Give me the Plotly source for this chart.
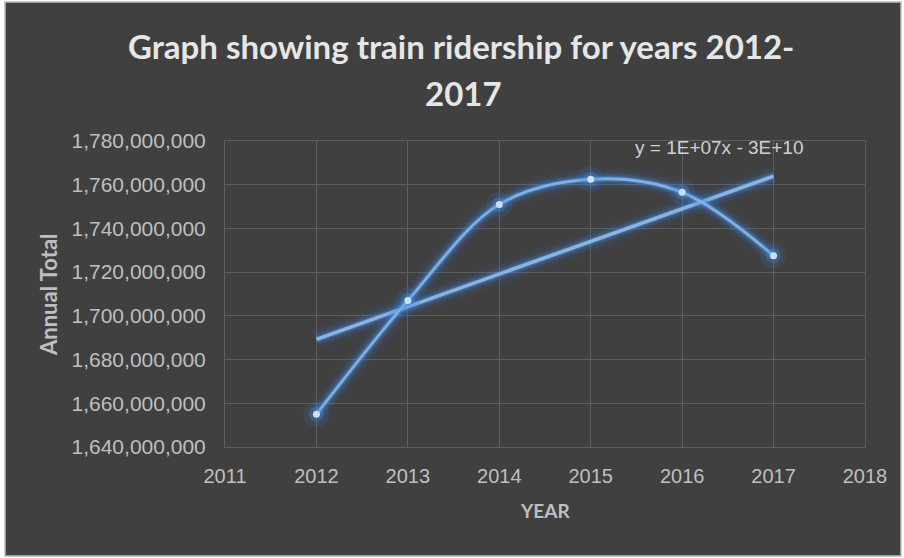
import numpy as np
import plotly.graph_objects as go

# ---- data ----
years = [2012, 2013, 2014, 2015, 2016, 2017]
ridership = [1655000000, 1707000000, 1751000000, 1762500000, 1756500000, 1727500000]
y_ticks = [1640000000, 1660000000, 1680000000, 1700000000, 1720000000,
           1740000000, 1760000000, 1780000000]
x_ticks = [2011, 2012, 2013, 2014, 2015, 2016, 2017, 2018]
title_line1 = "Graph showing train ridership for years 2012-"
title_line2 = "2017"
trend_label = "y = 1E+07x - 3E+10"

# linear trendline fitted to the data
slope, intercept = np.polyfit(years, ridership, 1)
trend_x = [years[0], years[-1]]
trend_y = [slope * x + intercept for x in trend_x]

TITLEF = "Lato, Liberation Sans, sans-serif"
REG = "Liberation Sans, Arial, sans-serif"

fig = go.Figure()

glow = [(22, "rgba(50,120,220,0.06)"), (15, "rgba(60,130,225,0.10)"),
        (10, "rgba(70,140,230,0.17)"), (6, "rgba(90,155,235,0.30)")]

# trendline glow + core
for w, c in glow:
    fig.add_trace(go.Scatter(x=trend_x, y=trend_y, mode="lines",
                             line=dict(color=c, width=w), hoverinfo="skip",
                             showlegend=False))
fig.add_trace(go.Scatter(x=trend_x, y=trend_y, mode="lines",
                         line=dict(color="#8ab4e4", width=3.5),
                         showlegend=False, name="Linear"))

# series glow + core
for w, c in glow:
    fig.add_trace(go.Scatter(x=years, y=ridership, mode="lines",
                             line=dict(color=c, width=w, shape="spline", smoothing=1),
                             hoverinfo="skip", showlegend=False))
fig.add_trace(go.Scatter(x=years, y=ridership, mode="lines",
                         line=dict(color="#7cb0ea", width=2.8, shape="spline", smoothing=1),
                         showlegend=False, name="Annual Total"))
# marker glow + markers
fig.add_trace(go.Scatter(x=years, y=ridership, mode="markers",
                         marker=dict(size=26, color="rgba(60,130,230,0.12)"),
                         hoverinfo="skip", showlegend=False))
fig.add_trace(go.Scatter(x=years, y=ridership, mode="markers",
                         marker=dict(size=15, color="rgba(80,150,235,0.25)"),
                         hoverinfo="skip", showlegend=False))
fig.add_trace(go.Scatter(x=years, y=ridership, mode="markers",
                         marker=dict(size=7, color="#c8e0f8"),
                         showlegend=False, name="Annual Total"))

L, R, T, B = 225, 39, 141, 111
W, H = 904, 558
pw, ph = W - L - R, H - T - B


def px(xp):
    return (xp - L) / pw


def py(yp):
    return (H - B - yp) / ph


fig.add_shape(type="rect", xref="paper", yref="paper",
              x0=px(5), x1=px(901), y0=py(556), y1=py(2),
              fillcolor="#404040", line=dict(color="#bdbdbd", width=1.5),
              layer="below")

fig.add_annotation(text=title_line1, x=px(461), y=py(46), xref="paper", yref="paper",
                   showarrow=False, xanchor="center", yanchor="middle",
                   font=dict(family=TITLEF, size=33, color="#e6e6e6", weight="bold"))
fig.add_annotation(text=title_line2, x=px(463), y=py(93), xref="paper", yref="paper",
                   showarrow=False, xanchor="center", yanchor="middle",
                   font=dict(family=TITLEF, size=33, color="#e6e6e6", weight="bold"))
fig.add_annotation(text="Annual Total", x=px(48), y=py(295), xref="paper", yref="paper",
                   showarrow=False, textangle=-90, xanchor="center", yanchor="middle",
                   font=dict(family=TITLEF, size=22, color="#bfbfbf", weight="bold"))
fig.add_annotation(text="YEAR", x=px(545), y=py(510), xref="paper", yref="paper",
                   showarrow=False, xanchor="center", yanchor="middle",
                   font=dict(family=TITLEF, size=19, color="#bfbfbf", weight="bold"))
fig.add_annotation(text=trend_label, x=px(719), y=py(147), xref="paper", yref="paper",
                   showarrow=False, xanchor="center", yanchor="middle",
                   font=dict(family=REG, size=19, color="#d0d0d0"))

fig.update_layout(
    width=W, height=H,
    margin=dict(l=L, r=R, t=T, b=B),
    paper_bgcolor="white",
    plot_bgcolor="rgba(0,0,0,0)",
    showlegend=False,
    xaxis=dict(range=[2011, 2018], tickvals=x_ticks, ticktext=[str(v) for v in x_ticks],
               showgrid=True, gridcolor="#5e5e5e", gridwidth=1, zeroline=False,
               showline=True, linecolor="#5e5e5e", mirror=True,
               tickfont=dict(family=REG, size=20, color="#bfbfbf"),
               ticklabelstandoff=11),
    yaxis=dict(range=[1640000000, 1780000000], tickvals=y_ticks,
               tickformat=",d", showgrid=True, gridcolor="#5e5e5e", gridwidth=1,
               zeroline=False, showline=True, linecolor="#5e5e5e", mirror=True,
               tickfont=dict(family=REG, size=21, color="#bfbfbf"),
               ticklabelstandoff=14),
)

fig.write_html("out.html", config={"displayModeBar": False},
               post_script="document.body.style.margin='0px';")
